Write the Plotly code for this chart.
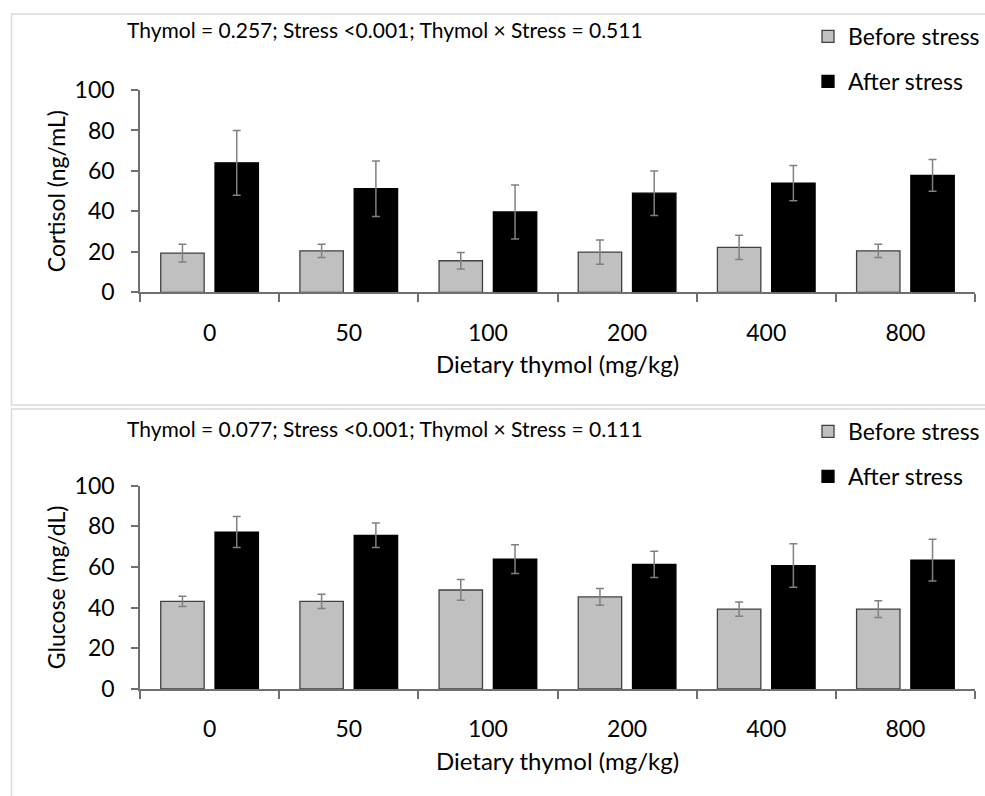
import plotly.graph_objects as go

doses = ["0", "50", "100", "200", "400", "800"]

cortisol_before = [19.4, 20.5, 15.6, 19.9, 22.2, 20.5]
cortisol_before_err = [4.4, 3.3, 4.1, 6.0, 6.0, 3.3]
cortisol_after = [64.0, 51.2, 39.7, 49.0, 54.0, 57.8]
cortisol_after_err = [16.0, 13.7, 13.4, 11.0, 8.7, 7.9]

glucose_before = [43.1, 43.1, 48.7, 45.3, 39.3, 39.3]
glucose_before_err = [2.5, 3.5, 5.1, 4.1, 3.5, 4.1]
glucose_after = [77.2, 75.6, 63.9, 61.3, 60.7, 63.4]
glucose_after_err = [7.6, 6.0, 7.1, 6.5, 10.7, 10.3]

series_names = ["Before stress", "After stress"]
stats_top = "Thymol = 0.257; Stress <0.001; Thymol × Stress = 0.511"
stats_bottom = "Thymol = 0.077; Stress <0.001; Thymol × Stress = 0.111"
y_titles = ["Cortisol (ng/mL)", "Glucose (mg/dL)"]
x_title = "Dietary thymol (mg/kg)"
y_ticks = [0, 20, 40, 60, 80, 100]

FONT = "Lato"
W, H = 985, 796
GRAY = "#c0c0c0"
EDGE = "#404040"
ERR = "#808080"
AXIS = "#6f6f6f"

fig = go.Figure()

def add_pair(before, before_err, after, after_err, xa, ya, leg):
    fig.add_trace(go.Bar(
        x=doses, y=before, name=series_names[0], xaxis=xa, yaxis=ya,
        marker=dict(color=GRAY, line=dict(color=EDGE, width=1.3)),
        error_y=dict(type="data", array=before_err, color=ERR, thickness=1.5, width=4),
        legend=leg, legendgroup=leg + "a",
    ))
    fig.add_trace(go.Bar(
        x=doses, y=after, name=series_names[1], xaxis=xa, yaxis=ya,
        marker=dict(color="#000000", line=dict(color="#000000", width=1.3)),
        error_y=dict(type="data", array=after_err, color=ERR, thickness=1.5, width=4),
        legend=leg, legendgroup=leg + "b",
    ))

add_pair(cortisol_before, cortisol_before_err, cortisol_after, cortisol_after_err, "x", "y", "legend")
add_pair(glucose_before, glucose_before_err, glucose_after, glucose_after_err, "x2", "y2", "legend2")

def px_y(p):
    return 1 - p / H

xdom = [140 / W, 975 / W]
tick_font = dict(family=FONT, size=23, color="#000000")
xtitle_font = dict(family=FONT, size=24, color="#000000")

def xaxis_def(anchor):
    return dict(
        domain=xdom, anchor=anchor, type="category", automargin=False,
        showline=True, linecolor=AXIS, linewidth=1.5,
        ticks="outside", tickson="boundaries", ticklen=8, tickcolor=AXIS, tickwidth=1.5,
        tickfont=tick_font, ticklabelstandoff=19,
        title=dict(text=x_title, font=xtitle_font, standoff=12),
        showgrid=False, zeroline=False, fixedrange=True,
    )

def yaxis_def(anchor, dom, title):
    return dict(
        domain=dom, anchor=anchor, range=[0, 100], automargin=False,
        tickvals=y_ticks, showline=True, linecolor=AXIS, linewidth=1.5,
        ticks="outside", ticklen=7, tickcolor=AXIS, tickwidth=1.5,
        tickfont=tick_font, ticklabelstandoff=12,
        title=dict(text=title, font=tick_font, standoff=3),
        showgrid=False, zeroline=False, fixedrange=True,
    )

legend_common = dict(
    xanchor="left", yanchor="top", x=808 / W,
    font=dict(family=FONT, size=23, color="#000000"),
    bgcolor="rgba(0,0,0,0)", tracegroupgap=12, traceorder="grouped",
)

fig.update_layout(
    template="none",
    width=W, height=H,
    margin=dict(l=0, r=0, t=0, b=0, autoexpand=False),
    paper_bgcolor="white", plot_bgcolor="white",
    barmode="group", bargap=0.22, bargroupgap=0.2,
    font=dict(family=FONT, color="#000000"),
    xaxis=xaxis_def("y"),
    yaxis=yaxis_def("x", [px_y(292.3), px_y(90)], y_titles[0]),
    xaxis2=xaxis_def("y2"),
    yaxis2=yaxis_def("x2", [px_y(689), px_y(485.7)], y_titles[1]),
    legend=dict(y=px_y(15), **legend_common),
    legend2=dict(y=px_y(410), **legend_common),
    showlegend=True,
    annotations=[
        dict(text=stats_top, xref="paper", yref="paper", x=125 / W, y=px_y(30),
             xanchor="left", yanchor="middle", showarrow=False,
             font=dict(family=FONT, size=21, color="#000000")),
        dict(text=stats_bottom, xref="paper", yref="paper", x=125 / W, y=px_y(428),
             xanchor="left", yanchor="middle", showarrow=False,
             font=dict(family=FONT, size=21, color="#000000")),
    ],
    shapes=[
        dict(type="rect", xref="paper", yref="paper", x0=11.5 / W, x1=1.02,
             y0=px_y(405), y1=px_y(14), line=dict(color="#d9d9d9", width=1.5),
             fillcolor="rgba(0,0,0,0)", layer="below"),
        dict(type="rect", xref="paper", yref="paper", x0=11.5 / W, x1=1.02,
             y0=-0.02, y1=px_y(409), line=dict(color="#d9d9d9", width=1.5),
             fillcolor="rgba(0,0,0,0)", layer="below"),
    ],
)

fig.write_html("out.html")
